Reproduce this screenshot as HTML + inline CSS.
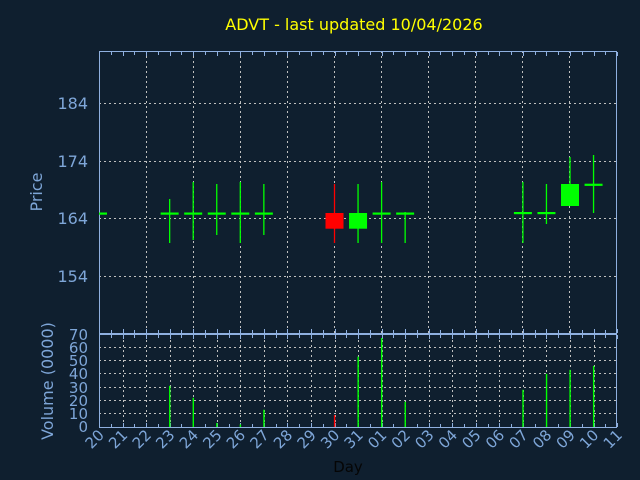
<!DOCTYPE html>
<html><head><meta charset="utf-8"><style>
html,body{margin:0;padding:0;background:#0f1f2f;}
svg{display:block;}
text{font-family:"DejaVu Sans","Liberation Sans",sans-serif;}
</style></head><body>
<svg width="640" height="480" viewBox="0 0 640 480" xmlns="http://www.w3.org/2000/svg">
<rect width="640" height="480" fill="#0f1f2f"/>
<text x="354" y="30" fill="#ffff00" font-size="16" text-anchor="middle">ADVT - last updated 10/04/2026</text>
<g id="grid" stroke="#c0c0c0" stroke-width="1" stroke-dasharray="2,3" fill="none">
<line x1="99" y1="103.5" x2="617" y2="103.5"/>
<line x1="99" y1="161.5" x2="617" y2="161.5"/>
<line x1="99" y1="218.5" x2="617" y2="218.5"/>
<line x1="99" y1="276.5" x2="617" y2="276.5"/>
<line x1="146.5" y1="51" x2="146.5" y2="333"/>
<line x1="193.5" y1="51" x2="193.5" y2="333"/>
<line x1="240.5" y1="51" x2="240.5" y2="333"/>
<line x1="287.5" y1="51" x2="287.5" y2="333"/>
<line x1="334.5" y1="51" x2="334.5" y2="333"/>
<line x1="381.5" y1="51" x2="381.5" y2="333"/>
<line x1="428.5" y1="51" x2="428.5" y2="333"/>
<line x1="475.5" y1="51" x2="475.5" y2="333"/>
<line x1="522.5" y1="51" x2="522.5" y2="333"/>
<line x1="569.5" y1="51" x2="569.5" y2="333"/>
<line x1="99" y1="347.5" x2="617" y2="347.5"/>
<line x1="99" y1="360.5" x2="617" y2="360.5"/>
<line x1="99" y1="373.5" x2="617" y2="373.5"/>
<line x1="99" y1="387.5" x2="617" y2="387.5"/>
<line x1="99" y1="400.5" x2="617" y2="400.5"/>
<line x1="99" y1="413.5" x2="617" y2="413.5"/>
</g>
<g stroke="#c0c0c0" stroke-width="1" stroke-dasharray="2,3" id="vgv"></g>
<g id="ticks" stroke="#8fb0e0" stroke-width="1"></g>
<rect x="99.5" y="51.5" width="517" height="282" fill="none" stroke="#8fb0e0" stroke-width="1"/>
<rect x="99.5" y="334.5" width="517" height="93" fill="none" stroke="#8fb0e0" stroke-width="1"/>
<g fill="#7ea6d8" font-size="16" text-anchor="end">
<text x="88" y="109">184</text>
<text x="88" y="167">174</text>
<text x="88" y="224">164</text>
<text x="88" y="282">154</text>
</g>
<text transform="translate(42,192) rotate(-90)" fill="#7ea6d8" font-size="16" text-anchor="middle">Price</text>
<g fill="#7ea6d8" font-size="15" text-anchor="end">
<text x="88" y="340">70</text>
<text x="88" y="353">60</text>
<text x="88" y="366">50</text>
<text x="88" y="379">40</text>
<text x="88" y="393">30</text>
<text x="88" y="406">20</text>
<text x="88" y="419">10</text>
<text x="88" y="432">0</text>
</g>
<text transform="translate(53,381) rotate(-90)" fill="#7ea6d8" font-size="16" text-anchor="middle">Volume (0000)</text>
<g id="xl" fill="#7ea6d8" font-size="15"></g>
<text x="348" y="472" fill="#050505" font-size="15" text-anchor="middle">Day</text>
<g id="candles"></g>
<g id="vol"></g>
<script>
var ns="http://www.w3.org/2000/svg";
function el(p,t,a){var e=document.createElementNS(ns,t);for(var k in a)e.setAttribute(k,a[k]);document.getElementById(p).appendChild(e);return e;}
var X=function(i){return 99+23.55*i;};
var days=["20","21","22","23","24","25","26","27","28","29","30","31","01","02","03","04","05","06","07","08","09","10","11"];
for(var i=0;i<23;i++){
 var x=X(i);
 if(i>0&&i<22) el("vgv","line",{x1:Math.round(x)+0.5,y1:335,x2:Math.round(x)+0.5,y2:427});
 var t=el("xl","text",{transform:"translate("+(x+6)+",436) rotate(-45)","text-anchor":"end"});t.textContent=days[i];
}
for(var j=0;j<=44;j++){
 var x=Math.round(X(j/2))+0.5,len=(j%2==0)?4:3;
 el("ticks","line",{x1:x,y1:52,x2:x,y2:52+len});
 el("ticks","line",{x1:x,y1:333,x2:x,y2:333-len});
 el("ticks","line",{x1:x,y1:335,x2:x,y2:335+len});
 el("ticks","line",{x1:x,y1:427,x2:x,y2:427-len});
}
var G="#00ff00",R="#ff0000";
var c=[[0,null,null,213.5,213.5,G],[3,199,243,213.5,213.5,G],[4,182,240,213.5,213.5,G],[5,184,235,213.5,213.5,G],[6,182,243,213.5,213.5,G],[7,184,235,213.5,213.5,G],
[10,184,243,213,228.7,R],[11,184,243,213,228.7,G],[12,182,243,213.5,213.5,G],[13,212,243,213.5,213.5,G],
[18,182,243,213,213,G],[19,184,224,213,213,G],[20,157,206,184,206,G],[21,155,213,184.7,184.7,G]];
c.forEach(function(d){
 var x=X(d[0]);
 if(d[1]!=null) el("candles","line",{x1:x,y1:d[1],x2:x,y2:d[2],stroke:d[5],"stroke-width":1.3});
 if(d[4]-d[3]<1){ var w=d[0]==0?8:18; el("candles","rect",{x:d[0]==0?99:x-9,y:d[3]-1,width:w,height:2.2,fill:d[5]}); }
 else el("candles","rect",{x:x-9,y:d[3],width:18,height:d[4]-d[3],fill:d[5]});
});
var v=[[3,31],[4,22],[5,3],[6,2],[7,13],[10,9,R],[11,53],[12,67],[13,19],[18,28],[19,40],[20,43],[21,46]];
v.forEach(function(d){var x=X(d[0]);var h=d[1]*93/70;el("vol","rect",{x:x-0.6,y:427-h,width:1.4,height:h,fill:d[2]||G});});
</script>
</svg>
</body></html>
